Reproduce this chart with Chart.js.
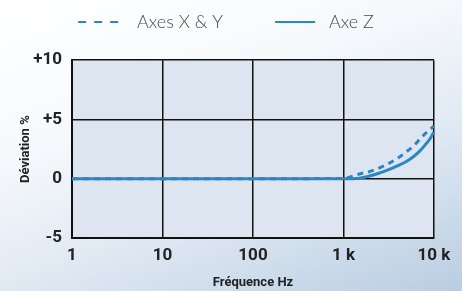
<!DOCTYPE html>
<html><head><meta charset="utf-8">
<script src="https://cdn.jsdelivr.net/npm/chart.js@4/dist/chart.umd.min.js"></script>
<style>
html,body{margin:0;padding:0;width:462px;height:291px;overflow:hidden;}
body{background:linear-gradient(160deg,#ffffff 0%,#f6f9fc 35%,#dfe8f2 65%,#b9cde2 100%);}
#wrap{position:absolute;left:0;top:0;width:462px;height:291px;}
</style></head>
<body><div id="wrap"><canvas id="c" width="462" height="291"></canvas></div>
<script>
const frequencies = [1, 10, 100, 1000, 1500, 2000, 3000, 4000, 5000, 6000, 7000, 8000, 9000, 10000];
const axesXY = [0, 0, 0, 0.03, 0.4, 0.64, 1.2, 1.75, 2.3, 2.8, 3.35, 3.8, 4.15, 4.45];
const axeZ   = [0, 0, 0, 0, 0.05, 0.25, 0.7, 1.1, 1.47, 1.9, 2.35, 2.86, 3.35, 3.95];
const xTickValues = [1, 10, 100, 1000, 10000];
const xTickLabels = ['1', '10', '100', '1 k', '10 k'];
const yTickValues = [-5, 0, 5, 10];
const yTickLabels = ['-5', '0', '+5', '+10'];
const seriesNames = ['Axes X & Y', 'Axe Z'];

const lineColor = '#2b86c2';
const condFamily = "Roboto, sans-serif";
const tickFont = {family: condFamily, size: 17, weight: 'bold'};
const titleFont = {family: condFamily, size: 13, weight: 'bold'};

const plotBg = {
  id: 'plotBg',
  beforeDraw(chart) {
    const {ctx, chartArea: a} = chart;
    ctx.save();
    ctx.fillStyle = '#dde5f1';
    ctx.fillRect(a.left, a.top, a.right - a.left, a.bottom - a.top);
    ctx.restore();
  }
};

new Chart(document.getElementById('c'), {
  type: 'line',
  data: {
    datasets: [
      {label: seriesNames[0], data: frequencies.map((f, i) => ({x: f, y: axesXY[i]})),
       borderColor: lineColor, backgroundColor: lineColor, borderWidth: 3, borderDash: [6, 5],
       pointRadius: 0, cubicInterpolationMode: 'monotone'},
      {label: seriesNames[1], data: frequencies.map((f, i) => ({x: f, y: axeZ[i]})),
       borderColor: lineColor, backgroundColor: lineColor, borderWidth: 3,
       pointRadius: 0, cubicInterpolationMode: 'monotone'}
    ]
  },
  options: {
    responsive: false,
    animation: false,
    layout: {padding: {left: 18, right: 28, top: 0, bottom: 0}},
    plugins: {
      tooltip: {enabled: false},
      subtitle: {display: true, text: '', font: {size: 1}, padding: 9},
      legend: {
        position: 'top', weight: 1800,
        labels: {
          usePointStyle: true, pointStyle: 'line', pointStyleWidth: 40, padding: 13,
          color: '#4a4a4a',
          font: {family: "Lato, 'Open Sans', sans-serif", size: 18, weight: '300'},
          generateLabels(chart) {
            return chart.data.datasets.map((d, i) => ({
              text: (i === 0 ? '  ' + d.label + '        ' : ' ' + d.label),
              strokeStyle: d.borderColor, fillStyle: d.borderColor,
              lineWidth: 2, lineDash: d.borderDash ? [8, 8] : [], pointStyle: 'line',
              datasetIndex: i, fontColor: '#4a4a4a', hidden: false
            }));
          }
        }
      }
    },
    scales: {
      x: {
        type: 'logarithmic', min: 1, max: 10000,
        afterBuildTicks(s) { s.ticks = xTickValues.map(v => ({value: v})); },
        afterFit(s) { s.height = 53; },
        ticks: {
          autoSkip: false, maxRotation: 0, color: '#222', font: tickFont, padding: 8,
          callback(v) { const i = xTickValues.indexOf(v); return i >= 0 ? xTickLabels[i] : ''; }
        },
        grid: {color: '#111', lineWidth: 1.5, drawTicks: false},
        border: {color: '#111', width: 2},
        title: {display: true, text: 'Fréquence Hz', color: '#222', font: titleFont, padding: {top: 0, bottom: 0}}
      },
      y: {
        min: -5, max: 10,
        afterBuildTicks(s) { s.ticks = yTickValues.map(v => ({value: v})); },
        afterFit(s) { s.width = 54; },
        ticks: {
          color: '#222', font: tickFont, padding: 10,
          callback(v) { const i = yTickValues.indexOf(v); return i >= 0 ? yTickLabels[i] : ''; }
        },
        grid: {color: '#111', lineWidth: 1.5, drawTicks: false},
        border: {color: '#111', width: 2},
        title: {display: true, text: 'Déviation %', color: '#222', font: titleFont, padding: {top: 0, bottom: 4}}
      }
    }
  },
  plugins: [plotBg]
});
</script>
</body></html>
